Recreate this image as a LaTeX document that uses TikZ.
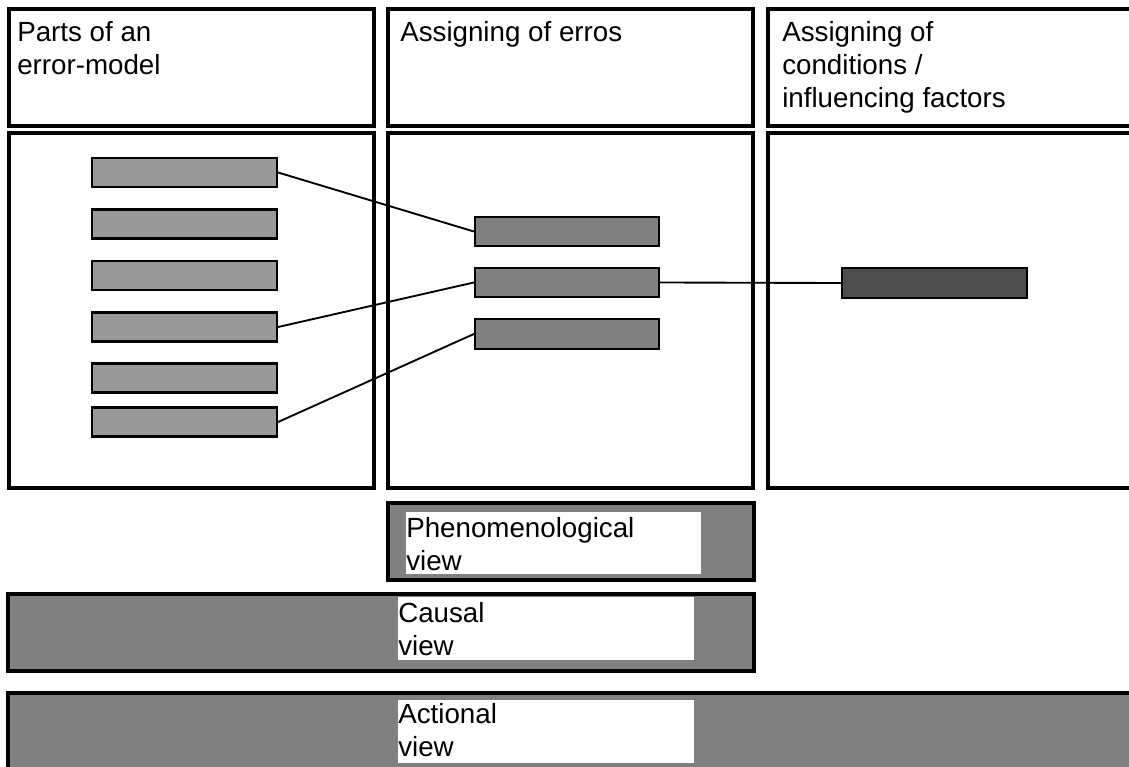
\documentclass[tikz,border=0pt]{standalone}
\usepackage{fontspec}
\setmainfont{Liberation Sans}
\begin{document}
\begin{tikzpicture}[x=0.75pt,y=-0.75pt,
  frame/.style={draw=black, line width=2.3pt},
  viewbox/.style={draw=black, line width=2.3pt, fill=gray50},
  barL/.style={draw=black, line width=1.7pt, fill=gray60, inner sep=0pt, minimum width=138.75pt, minimum height=21.75pt},
  barM/.style={draw=black, line width=1.7pt, fill=gray50, inner sep=0pt, minimum width=138pt, minimum height=22pt},
  barR/.style={draw=black, line width=1.7pt, fill=gray30, inner sep=0pt, minimum width=138.75pt, minimum height=22.5pt},
  txt/.style={inner sep=0pt, anchor=base west, font=\fontsize{20.8pt}{24.75pt}\selectfont},
  whitebox/.style={fill=white, draw=none, inner sep=0pt, anchor=north west},
  conn/.style={draw=black, line width=1.4pt}]
\definecolor{gray60}{HTML}{999999}
\definecolor{gray50}{HTML}{808080}
\definecolor{gray30}{HTML}{4D4D4D}
\useasboundingbox (0,0) rectangle (1129,767);
\fill[white] (0,0) rectangle (1129,767);
\clip (0,0) rectangle (1129,767);
% header frames
\draw[frame] (9,9) rectangle (374,126);
\draw[frame] (388,9) rectangle (753,126);
\draw[frame] (768,9) rectangle (1140,126);
% body frames
\draw[frame] (9,133) rectangle (374,488);
\draw[frame] (388,133) rectangle (753,488);
\draw[frame] (768,133) rectangle (1140,488);
% header texts
\node[txt] (h1) at (17,42) {\parbox[t]{300pt}{Parts of an\\error-model}};
\node[txt] (h2) at (400,42) {\parbox[t]{300pt}{Assigning of erros}};
\node[txt] (h3) at (782,42) {\parbox[t]{300pt}{Assigning of\\conditions /\\influencing factors}};
% left bars
\node[barL] (l1) at (184.5,172.5) {};
\node[barL] (l2) at (184.5,224) {};
\node[barL] (l3) at (184.5,275.5) {};
\node[barL] (l4) at (184.5,327) {};
\node[barL] (l5) at (184.5,378) {};
\node[barL] (l6) at (184.5,422) {};
% middle bars
\node[barM] (m1) at (567,231.5) {};
\node[barM] (m2) at (567,282.5) {};
\node[barM] (m3) at (567,334) {};
% right bar
\node[barR] (r1) at (934.5,283) {};
% connectors
\draw[conn] (l1.east) -- (m1.west);
\draw[conn] (l4.east) -- (m2.west);
\draw[conn] (l6.east) -- (m3.west);
\draw[conn] (m2.east) -- (r1.west);
% view boxes
\draw[viewbox] (388,503) rectangle (754,580);
\draw[viewbox] (8,594) rectangle (754,671);
\draw[viewbox] (8,693) rectangle (1140,790);
\node[whitebox, minimum width=221.25pt, minimum height=46.5pt] (w1) at (406,512) {};
\node[whitebox, minimum width=221.7pt, minimum height=47.25pt] (w2) at (398,597) {};
\node[whitebox, minimum width=221.7pt, minimum height=47.25pt] (w3) at (398,700) {};
\node[txt] (v1) at (406,537) {\parbox[t]{300pt}{Phenomenological\\view}};
\node[txt] (v2) at (398,622) {\parbox[t]{300pt}{Causal\\view}};
\node[txt] (v3) at (398,723.5) {\parbox[t]{300pt}{Actional\\view}};
\end{tikzpicture}
\end{document}
